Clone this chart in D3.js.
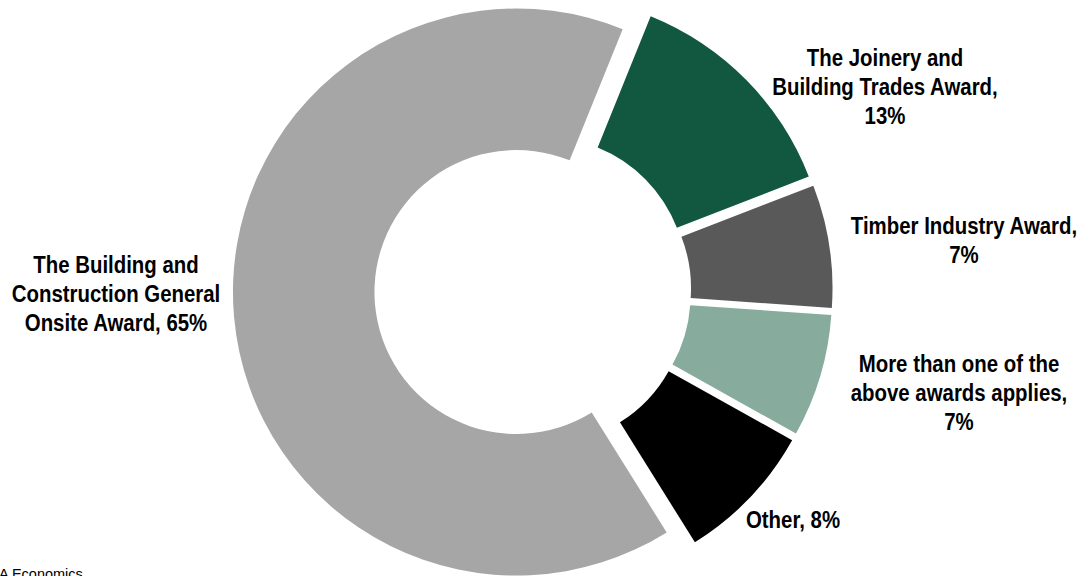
<!DOCTYPE html>
<html>
<head>
<meta charset="utf-8">
<script src="https://cdn.jsdelivr.net/npm/d3@7"></script>
<style>
  html, body { margin: 0; padding: 0; background: #ffffff; }
  svg { display: block; }
  .lbl { font-family: "Liberation Sans", Arial, sans-serif; font-weight: bold; fill: #000; }
  .src { font-family: "Liberation Sans", Arial, sans-serif; fill: #000; }
</style>
</head>
<body>
<svg id="chart" width="1081" height="576"></svg>
<script>
// Award coverage shares (%)
const categories = [
  "The Building and Construction General Onsite Award",
  "The Joinery and Building Trades Award",
  "Timber Industry Award",
  "More than one of the above awards applies",
  "Other"
];
const values = [65, 13, 7, 7, 8];
const colors = ["#a6a6a6", "#12573f", "#595959", "#87ab9d", "#000000"];

// Label wrapping: text lines before the value, and whether the value gets its own line
const labelLines = [
  ["The Building and", "Construction General", "Onsite Award"],
  ["The Joinery and", "Building Trades Award"],
  ["Timber Industry Award"],
  ["More than one of the", "above awards applies"],
  ["Other"]
];
const valueOwnLine = [false, true, true, true, false];

// Label placement (centre x, first baseline y)
const labelPos = [
  { x: 116, y: 273 },
  { x: 885, y: 66 },
  { x: 964, y: 234 },
  { x: 959, y: 372 },
  { x: 793, y: 528 }
];
const lineHeight = 29;
const condense = 0.85;   // horizontal squeeze for a narrow bold face

const width = 1081, height = 576;
const svg = d3.select("#chart");

const cx = 532.8, cy = 290.6;       // ring centre
const outerR = 283.5, innerR = 142;  // ring radii
const explode = 16.4;                // outward offset of each slice
const deg = Math.PI / 180;
const start = 148 * deg;

const pie = d3.pie().sort(null).value(d => d.value)
  .startAngle(start).endAngle(start + 2 * Math.PI);
const arc = d3.arc().innerRadius(innerR).outerRadius(outerR);

const data = categories.map((c, i) => ({ name: c, value: values[i], color: colors[i] }));
const arcs = pie(data);

const g = svg.append("g").attr("transform", `translate(${cx},${cy})`);

g.selectAll("path.slice")
  .data(arcs)
  .join("path")
  .attr("class", "slice")
  .attr("fill", d => d.data.color)
  .attr("transform", d => {
    const mid = (d.startAngle + d.endAngle) / 2;
    return `translate(${explode * Math.sin(mid)},${-explode * Math.cos(mid)})`;
  })
  .attr("d", arc);

// Category labels with values
const labels = svg.selectAll("text.lbl")
  .data(arcs)
  .join("text")
  .attr("class", "lbl")
  .attr("font-size", 24)
  .attr("text-anchor", "middle")
  .attr("transform", (d, i) => `translate(${labelPos[i].x},0) scale(${condense},1)`);

labels.each(function (d, i) {
  const lines = labelLines[i].slice();
  const valueText = d.data.value + "%";
  if (valueOwnLine[i]) {
    lines[lines.length - 1] += ",";
    lines.push(valueText);
  } else {
    lines[lines.length - 1] += ", " + valueText;
  }
  const t = d3.select(this);
  lines.forEach((ln, k) => {
    t.append("tspan")
      .attr("x", 0)
      .attr("y", labelPos[i].y + k * lineHeight)
      .text(ln);
  });
});

// Source note
svg.append("text")
  .attr("class", "src")
  .attr("x", -1)
  .attr("y", 579)
  .attr("font-size", 14.5)
  .text("A Economics");
</script>
</body>
</html>
